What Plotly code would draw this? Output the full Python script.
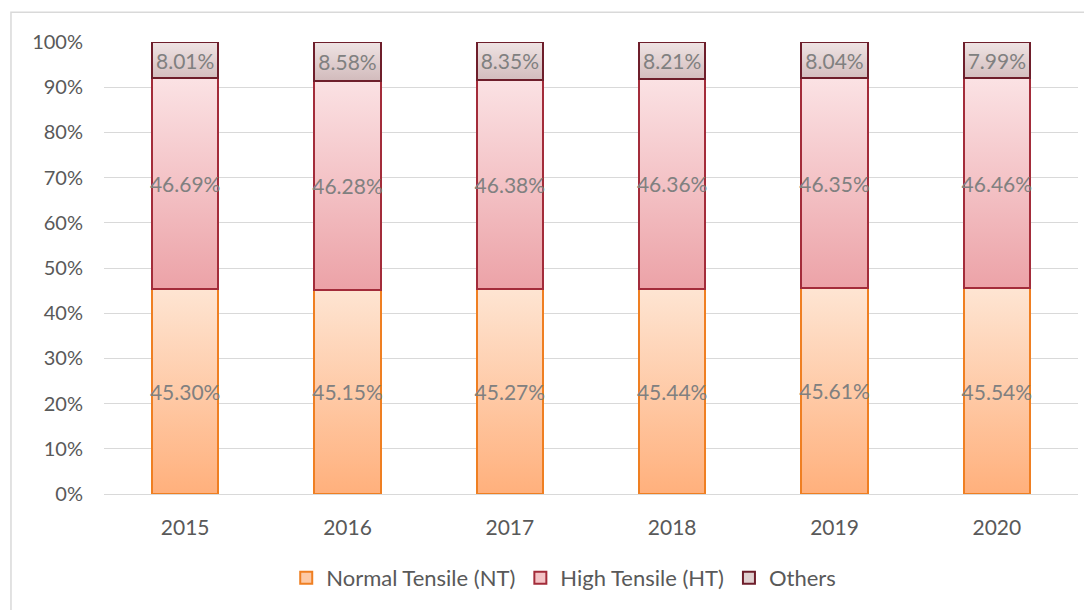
import plotly.graph_objects as go

years = ["2015", "2016", "2017", "2018", "2019", "2020"]
normal_tensile = [45.30, 45.15, 45.27, 45.44, 45.61, 45.54]
high_tensile = [46.69, 46.28, 46.38, 46.36, 46.35, 46.46]
others = [8.01, 8.58, 8.35, 8.21, 8.04, 7.99]
y_ticks = [0, 10, 20, 30, 40, 50, 60, 70, 80, 90, 100]

FONT = "Lato"
BAR_W = 0.41
# name, values, gradient bottom colour, gradient top colour, outline colour, legend swatch
series = [
    ("Normal Tensile (NT)", normal_tensile, "#ffb07c", "#fee5d3", "#ef7f22", "#fdc9a5"),
    ("High Tensile (HT)", high_tensile, "#eca2a7", "#fbe2e4", "#a32c3a", "#f4c3c6"),
    ("Others", others, "#d2bbbc", "#efe4e4", "#6e1e2b", "#e0d0d0"),
]

xi = list(range(len(years)))
fig = go.Figure()

# gradient fills underneath (main axes), derived from the data via cumulative sums
base = [0.0] * len(years)
for name, vals, c_bot, c_top, line, sw in series:
    xs, ys = [], []
    for i, v in enumerate(vals):
        b, t = base[i], base[i] + v
        xs += [i - BAR_W / 2, i + BAR_W / 2, i + BAR_W / 2, i - BAR_W / 2, i - BAR_W / 2, None]
        ys += [b, b, t, t, b, None]
    fig.add_trace(go.Scatter(
        x=xs, y=ys, mode="none", fill="toself",
        fillgradient=dict(type="vertical", colorscale=[[0, c_bot], [1, c_top]]),
        showlegend=False, hoverinfo="skip", xaxis="x", yaxis="y",
    ))
    base = [base[i] + vals[i] for i in range(len(years))]

# real stacked bars on an overlay axis: outline and labels
for name, vals, c_bot, c_top, line, sw in series:
    fig.add_trace(go.Bar(
        x=xi, y=vals, name=name, width=BAR_W, showlegend=False,
        marker=dict(color="rgba(0,0,0,0)", line=dict(color=line, width=2)),
        text=[f"{v:.2f}%" for v in vals],
        textposition="inside", insidetextanchor="middle",
        textangle=0,
        textfont=dict(family=FONT, size=21, color="#808080"),
        xaxis="x2", yaxis="y2",
    ))

# legend entries with filled swatches
for name, vals, c_bot, c_top, line, sw in series:
    fig.add_trace(go.Bar(
        x=[None], y=[None], name=name,
        marker=dict(color=sw, line=dict(color=line, width=2)),
        xaxis="x2", yaxis="y2",
    ))

fig.update_layout(
    barmode="stack",
    width=1092, height=610,
    margin=dict(l=96, r=22, t=34, b=124),
    paper_bgcolor="white", plot_bgcolor="white",
    font=dict(family=FONT, size=20, color="#595959"),
    uniformtext=dict(minsize=21, mode="show"),
    showlegend=True,
    legend=dict(orientation="h", x=0.472, xanchor="center", y=-0.186, yanchor="middle",
                font=dict(family=FONT, size=22, color="#595959"),
                traceorder="normal", itemwidth=30),
    xaxis=dict(range=[-0.5, 5.5], tickvals=xi, ticktext=years,
               showgrid=False, showline=True, linecolor="#d9d9d9", linewidth=1, zeroline=False,
               ticks="", ticklabelstandoff=15, tickfont=dict(size=21, color="#595959")),
    yaxis=dict(range=[0, 100], tickvals=y_ticks, ticktext=[f"{v}%" for v in y_ticks],
               showgrid=True, gridcolor="#d9d9d9", gridwidth=1, zeroline=False,
               ticks="", ticklabelstandoff=20, tickfont=dict(size=20, color="#595959")),
    xaxis2=dict(overlaying="x", matches="x", visible=False, range=[-0.5, 5.5]),
    yaxis2=dict(overlaying="y", matches="y", visible=False, range=[0, 100]),
    shapes=[dict(type="rect", xref="paper", yref="paper",
                 x0=-0.0955, x1=1.05, y0=-0.4, y1=1.066,
                 line=dict(color="#d9d9d9", width=1.5), layer="below")],
)

fig.write_html("out.html")
